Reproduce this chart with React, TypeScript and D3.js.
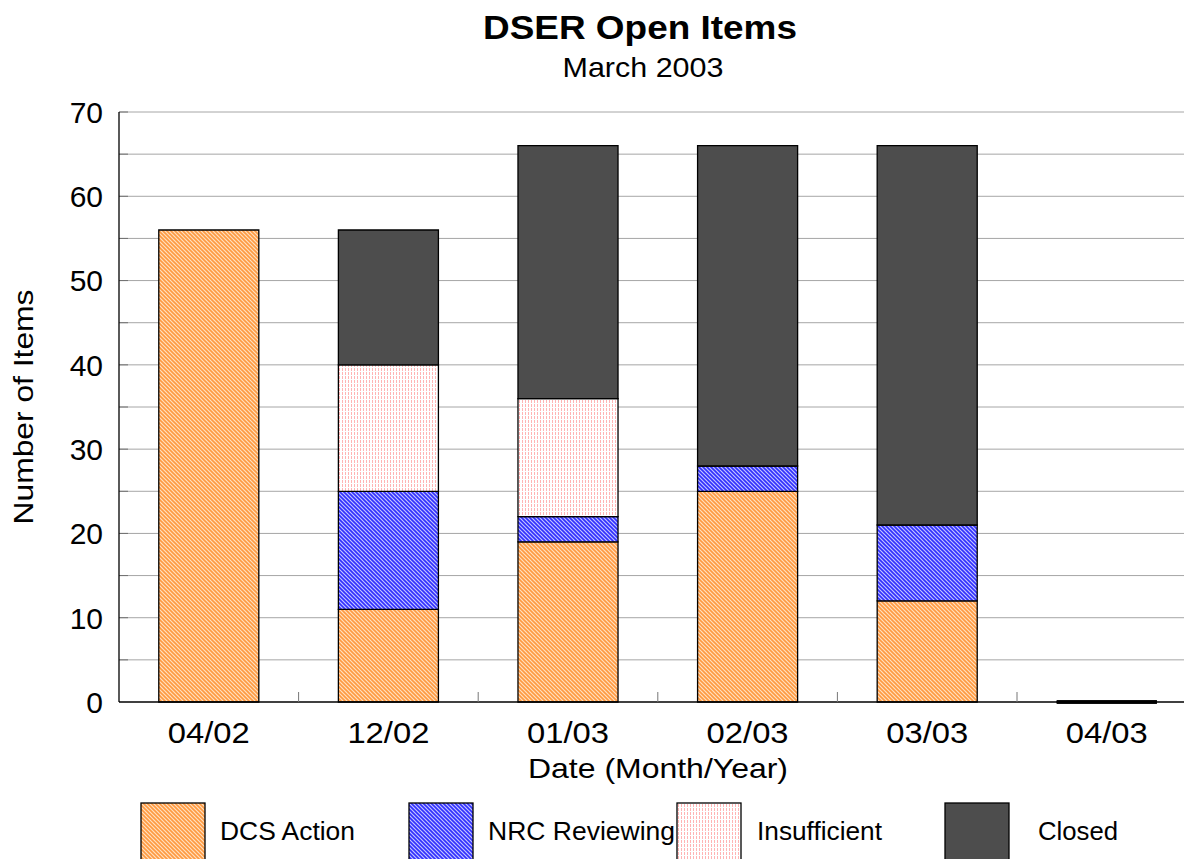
import React from 'react';
import * as d3 from 'd3';

const categories = ['04/02', '12/02', '01/03', '02/03', '03/03', '04/03'];
const seriesNames = ['DCS Action', 'NRC Reviewing', 'Insufficient', 'Closed'];
const dcsAction = [56, 11, 19, 25, 12, 0];
const nrcReviewing = [0, 14, 3, 3, 9, 0];
const insufficient = [0, 15, 14, 0, 0, 0];
const closed = [0, 16, 30, 38, 45, 0];
const yTicks = [0, 10, 20, 30, 40, 50, 60, 70];

const fills = ['url(#pDcs)', 'url(#pNrc)', 'url(#pIns)', '#4d4d4d'];
const legendTextX = [220, 488, 757, 1038];
const legendTextLen = [135, 187, 125, 80];
const font = 'Arial, "Liberation Sans", Helvetica, sans-serif';

const App: React.FC = () => {
  const W = 1184;
  const H = 859;
  const left = 119;
  const bottom = 702;
  const top = 112;
  const step = 179.6;

  const rows = categories.map((c, i) => ({
    cat: c,
    'DCS Action': dcsAction[i],
    'NRC Reviewing': nrcReviewing[i],
    Insufficient: insufficient[i],
    Closed: closed[i],
  }));
  const stacked = d3.stack<any>().keys(seriesNames)(rows);
  const totals = categories.map((_, i) => dcsAction[i] + nrcReviewing[i] + insufficient[i] + closed[i]);

  const x = d3.scaleBand<string>()
    .domain(categories)
    .range([left, left + step * categories.length])
    .paddingInner(0.443)
    .paddingOuter(0.2215);
  const y = d3.scaleLinear().domain([0, 70]).range([bottom, top]);

  const grid = d3.range(5, 75, 5);

  const segPath = (x0: number, w: number, y0: number, y1: number) => {
    const p = d3.path();
    p.moveTo(x0, y1);
    p.lineTo(x0 + w, y1);
    p.lineTo(x0 + w, y0);
    p.lineTo(x0, y0);
    p.closePath();
    return p.toString();
  };

  return (
    <svg width={W} height={H} style={{ position: 'absolute', left: 0, top: 0, background: '#fff' }} fontFamily={font}>
      <defs>
        <pattern id="pDcs" width={4} height={4} patternUnits="userSpaceOnUse">
          <rect width={4} height={4} fill="#ffe0c0" />
          <path d="M-1,-1 L5,5 M-1,3 L1,5 M3,-1 L5,1" stroke="#ff9a40" strokeWidth={1.6} />
        </pattern>
        <pattern id="pNrc" width={4} height={4} patternUnits="userSpaceOnUse">
          <rect width={4} height={4} fill="#c4c4ff" />
          <path d="M-1,-1 L5,5 M-1,3 L1,5 M3,-1 L5,1" stroke="#3030ff" strokeWidth={1.6} />
        </pattern>
        <pattern id="pIns" width={3} height={4} patternUnits="userSpaceOnUse">
          <rect width={3} height={4} fill="#fff" />
          <rect x={0} y={0} width={1} height={3} fill="#ffb4b4" />
        </pattern>
      </defs>

      {/* title */}
      <text x={640} y={39} textAnchor="middle" fontSize={34} fontWeight="bold" textLength={314} lengthAdjust="spacingAndGlyphs">DSER Open Items</text>
      <text x={643} y={77} textAnchor="middle" fontSize={28} textLength={161} lengthAdjust="spacingAndGlyphs">March 2003</text>

      {/* gridlines */}
      {grid.map(v => (
        <g key={v}>
          <line x1={left} x2={W} y1={y(v)} y2={y(v)} stroke="#a6a6a6" strokeWidth={1} />
          <line x1={left} x2={left + 9} y1={y(v)} y2={y(v)} stroke="#707070" strokeWidth={1} />
        </g>
      ))}

      {/* bars */}
      {stacked.map((s, si) => (
        <g key={s.key}>
          {s.map((d, i) => {
            const empty = d[1] - d[0] === 0;
            if (empty && totals[i] > 0) return null;
            return (
              <path
                key={i}
                d={segPath(x(categories[i]) as number, x.bandwidth(), y(d[0]), y(d[1]))}
                fill={fills[si]}
                stroke="#000"
                strokeWidth={empty ? 3 : 1.3}
              />
            );
          })}
        </g>
      ))}

      {/* axes */}
      <line x1={left} x2={left} y1={top} y2={bottom} stroke="#000" strokeWidth={1.3} />
      <line x1={left} x2={W} y1={bottom} y2={bottom} stroke="#000" strokeWidth={1.3} />
      {d3.range(1, categories.length).map(k => (
        <line key={k} x1={left + k * step} x2={left + k * step} y1={bottom} y2={bottom - 10} stroke="#777" strokeWidth={1} />
      ))}

      {yTicks.map(t => (
        <text key={t} x={103} y={y(t)} dy="0.36em" textAnchor="end" fontSize={30}>{t}</text>
      ))}
      {categories.map(c => (
        <text key={c} x={(x(c) as number) + x.bandwidth() / 2} y={743} textAnchor="middle" fontSize={30} textLength={82} lengthAdjust="spacingAndGlyphs">{c}</text>
      ))}

      <text x={658} y={778} textAnchor="middle" fontSize={28} textLength={260} lengthAdjust="spacingAndGlyphs">Date (Month/Year)</text>
      <text transform={`translate(33,407) rotate(-90)`} textAnchor="middle" fontSize={28} textLength={235} lengthAdjust="spacingAndGlyphs">Number of Items</text>

      {/* legend */}
      {seriesNames.map((n, i) => (
        <g key={n}>
          <rect x={141 + i * 268} y={803} width={64} height={60} fill={fills[i]} stroke="#000" strokeWidth={1.3} />
          <text x={legendTextX[i]} y={840} fontSize={25} textLength={legendTextLen[i]} lengthAdjust="spacingAndGlyphs">{n}</text>
        </g>
      ))}
    </svg>
  );
};

export default App;
